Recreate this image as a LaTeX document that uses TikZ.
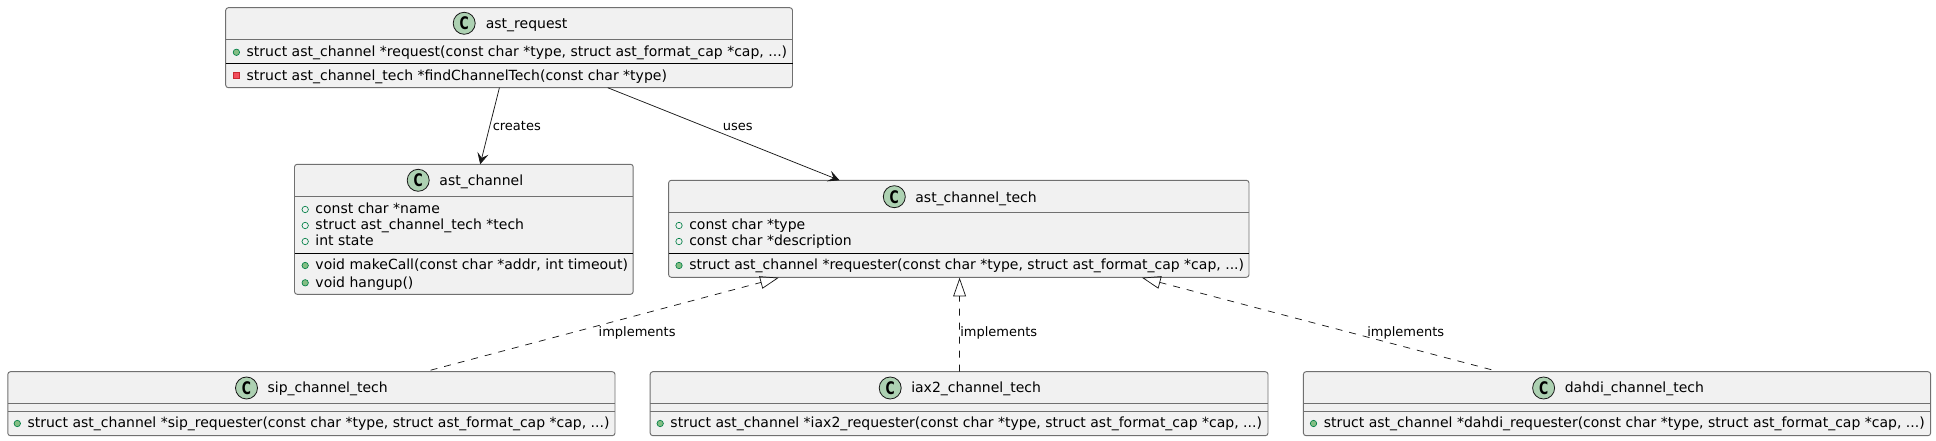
\documentclass[tikz,border=0pt]{standalone}
\usepackage{fontspec}
\setmainfont{DejaVu Sans}
\usetikzlibrary{calc,arrows.meta}
\definecolor{boxfill}{HTML}{F1F1F1}
\definecolor{boxline}{HTML}{181818}
\definecolor{frameline}{HTML}{707070}
\definecolor{spot}{HTML}{ADD1B2}
\definecolor{publine}{HTML}{038048}
\definecolor{pubfill}{HTML}{84BE84}
\definecolor{privline}{HTML}{C82930}
\definecolor{privfill}{HTML}{F24D5C}
\tikzset{
  classbox/.style={draw=frameline,fill=boxfill,line width=0.7pt,rounded corners=2pt,inner sep=0pt,outer sep=0pt,anchor=north west},
  headrule/.style={draw=frameline,line width=0.6pt},
  seprule/.style={draw=black,line width=0.8pt},
  titletext/.style={anchor=base west,inner sep=0pt,font=\fontsize{10.5pt}{12pt}\selectfont,text=black},
  membertext/.style={anchor=base west,inner sep=0pt,font=\fontsize{10.5pt}{12pt}\selectfont,text=black},
  linktext/.style={anchor=base west,inner sep=0pt,font=\fontsize{9.75pt}{12pt}\selectfont,text=black},
  spotshape/.style={circle,draw=boxline,fill=spot,line width=0.6pt,minimum size=16.5pt,inner sep=0pt},
  link/.style={draw=boxline,line width=0.55pt},
  creates/.style={link,-{Stealth[length=8.5pt,width=8.5pt,inset=3.6pt]}},
  realizes/.style={link,dash pattern=on 5.25pt off 5.25pt,-{Triangle[open,length=14pt,width=9.6pt]}}
}
% name, left, top, right, bottom
\newcommand\cls[5]{\node[classbox,minimum width={(#4-#2)*0.75pt},minimum height={(#5-#3)*0.75pt}] (#1) at (#2,#3) {};}
% name, spot x, spot y, title x, title baseline, text
\newcommand\ttl[6]{%
  \node[spotshape] (#1spot) at (#2,#3) {\scalebox{0.72}[1.0]{\fontsize{13pt}{13pt}\selectfont\bfseries C}};
  \node[titletext] (#1title) at (#4,#5) {#6};}
% name, text x, baseline, text
\newcommand\field[4]{%
  \draw[draw=publine,line width=0.5pt] (#2-10,#3-4.5) circle[radius=2.4pt];
  \node[membertext] (#1) at (#2,#3) {#4};}
\newcommand\meth[4]{%
  \draw[draw=publine,fill=pubfill,line width=0.5pt] (#2-10,#3-4.5) circle[radius=2.4pt];
  \node[membertext] (#1) at (#2,#3) {#4};}
\newcommand\privmeth[4]{%
  \draw[draw=privline,fill=privfill,line width=0.5pt] (#2-13,#3-7.5) rectangle (#2-7,#3-1.5);
  \node[membertext] (#1) at (#2,#3) {#4};}
\begin{document}
\begin{tikzpicture}[x=0.75pt,y=-0.75pt]
\useasboundingbox[fill=white] (0,0) rectangle (1936,441);

% boxes
\cls{req}{225.7}{7.7}{792.5}{87.7}
\cls{chan}{294.5}{164.3}{633.2}{294.3}
\cls{tech}{668.6}{180.3}{1249}{277.3}
\cls{sip}{7.8}{371.7}{615}{435.7}
\cls{iax}{650.2}{371.7}{1268}{435.7}
\cls{dahdi}{1303.4}{371.7}{1930.6}{435.7}

% compartments
\draw[headrule] ($(req.north west)+(0,31.6)$) -- ($(req.north east)+(0,31.6)$);
\draw[seprule] ($(req.north west)+(0,55.6)$) -- ($(req.north east)+(0,55.6)$);
\draw[headrule] ($(chan.north west)+(0,32)$) -- ($(chan.north east)+(0,32)$);
\draw[seprule] ($(chan.north west)+(0,89)$) -- ($(chan.north east)+(0,89)$);
\draw[headrule] ($(tech.north west)+(0,32)$) -- ($(tech.north east)+(0,32)$);
\draw[seprule] ($(tech.north west)+(0,73)$) -- ($(tech.north east)+(0,73)$);
\foreach \b in {sip,iax,dahdi}{
  \draw[headrule] ($(\b.north west)+(0,31.6)$) -- ($(\b.north east)+(0,31.6)$);
  \draw[headrule] ($(\b.north west)+(0,39.6)$) -- ($(\b.north east)+(0,39.6)$);
}

% titles
\ttl{req}{464.2}{23.3}{485.6}{28.3}{ast\_request}
\ttl{chan}{418.2}{180.3}{439.2}{185.3}{ast\_channel}
\ttl{tech}{894.3}{196.7}{915.1}{202.3}{ast\_channel\_tech}
\ttl{sip}{246.5}{388}{267.3}{392.3}{sip\_channel\_tech}
\ttl{iax}{890.2}{388}{911}{392.3}{iax2\_channel\_tech}
\ttl{dahdi}{1543.6}{388}{1564.5}{392.3}{dahdi\_channel\_tech}

% members
\meth{reqa}{246.4}{56.8}{struct ast\_channel *request(const char *type, struct ast\_format\_cap *cap, ...)}
\privmeth{reqb}{246.4}{80.3}{struct ast\_channel\_tech *findChannelTech(const char *type)}
\field{chana}{315.2}{214}{const char *name}
\field{chanb}{315.2}{230}{struct ast\_channel\_tech *tech}
\field{chanc}{315.2}{246}{int state}
\meth{chand}{315.2}{270}{void makeCall(const char *addr, int timeout)}
\meth{chane}{315.2}{287.3}{void hangup()}
\field{techa}{689}{230}{const char *type}
\field{techb}{689}{246}{const char *description}
\meth{techc}{689}{270}{struct ast\_channel *requester(const char *type, struct ast\_format\_cap *cap, ...)}
\meth{sipa}{27.3}{428}{struct ast\_channel *sip\_requester(const char *type, struct ast\_format\_cap *cap, ...)}
\meth{iaxa}{670.2}{428}{struct ast\_channel *iax2\_requester(const char *type, struct ast\_format\_cap *cap, ...)}
\meth{dahdia}{1323.5}{428}{struct ast\_channel *dahdi\_requester(const char *type, struct ast\_format\_cap *cap, ...)}

% connectors
\draw[creates] ($(req.south west)+(273.7,0)$) -- ($(chan.north west)+(185.7,0)$);
\draw[creates] ($(req.south west)+(382,0)$) -- ($(tech.north west)+(170.9,0)$);
\draw[realizes] ($(sip.north west)+(422.8,-1.5)$) -- ($(tech.south west)+(110.2,0.4)$);
\draw[realizes] ($(iax.north west)+(309.4,0)$) -- ($(tech.south west)+(291,0.4)$);
\draw[realizes] ($(dahdi.north west)+(187.9,-2)$) -- ($(tech.south west)+(473.4,0.4)$);

% link labels
\node[linktext] (lcreates) at (492.5,131) {creates};
\node[linktext] (luses) at (722.5,131) {uses};
\node[linktext] (lsip) at (598.4,337) {implements};
\node[linktext] (liax) at (960,337) {implements};
\node[linktext] (ldahdi) at (1367,337) {implements};
\end{tikzpicture}
\end{document}
